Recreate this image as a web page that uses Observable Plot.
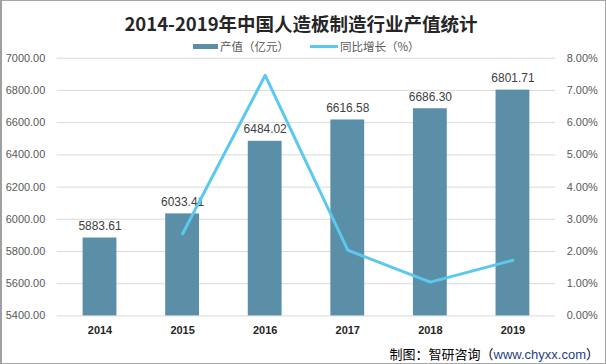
<!DOCTYPE html>
<html>
<head>
<meta charset="utf-8">
<script src="https://cdn.jsdelivr.net/npm/d3@7"></script>
<script src="https://cdn.jsdelivr.net/npm/@observablehq/plot@0.6"></script>
<style>
  body { margin: 0; background: #fff; }
  #wrap { position: relative; width: 606px; height: 364px; box-sizing: border-box; border: 1px solid #a6a6a6; border-left: 2px solid #a0a0a0; overflow: hidden; background: #fff; font-family: "Liberation Sans", "Noto Sans CJK SC", sans-serif; }
  #title { position: absolute; top: 9px; left: -3px; width: 604px; text-align: center; font-family: "Noto Sans CJK SC", sans-serif; font-weight: 700; font-size: 18.5px; color: #262626; }
  #legend { position: absolute; top: 37px; left: 191px; display: flex; font-family: "Noto Sans CJK SC", sans-serif; font-size: 11.5px; color: #595959; align-items: center; }
  .item { display: flex; align-items: center; }
  .sw { display: inline-block; margin-right: 2px; }
  #caption { position: absolute; right: 6px; top: 343px; font-family: "Noto Sans CJK SC", sans-serif; font-size: 13px; color: #000; }
  #caption span { color: #1f3f7f; font-family: "Liberation Sans", sans-serif; }
  .layer { position: absolute; left: -2px; top: -1px; }
</style>
</head>
<body>
<div id="wrap">
  <div id="title">2014-2019年中国人造板制造行业产值统计</div>
  <div id="legend"></div>
  <div id="caption">制图：智研咨询（<span>www.chyxx.com</span>）</div>
</div>
<script>
const years = ["2014", "2015", "2016", "2017", "2018", "2019"];
const output = [5883.61, 6033.41, 6484.02, 6616.58, 6686.30, 6801.71];
const growthYears = ["2015", "2016", "2017", "2018", "2019"];
const growth = [2.55, 7.47, 2.04, 1.05, 1.73];
const leftTicks = [5400, 5600, 5800, 6000, 6200, 6400, 6600, 6800, 7000];
const rightTicks = [0, 1, 2, 3, 4, 5, 6, 7, 8];
const seriesNames = ["产值（亿元）", "同比增长（%）"];

const barColor = "#5b8fa7";
const lineColor = "#5bc8f0";

const bars = years.map((y, i) => ({year: y, value: output[i]}));
const line = growthYears.map((y, i) => ({year: y, value: growth[i]}));

const W = 606, H = 364;
const margins = {marginTop: 58, marginBottom: 47, marginLeft: 57, marginRight: 48};
const font = "Liberation Sans, Noto Sans CJK SC, sans-serif";

const p1 = Plot.plot({
  width: W, height: H, ...margins,
  style: {fontFamily: font, fontSize: "11px", color: "#595959", background: "transparent", overflow: "visible"},
  x: {domain: years, paddingInner: 0.59, paddingOuter: 0.295, label: null},
  y: {domain: [5400, 7000], label: null},
  marks: [
    Plot.gridY(leftTicks, {stroke: "#d9d9d9", strokeOpacity: 1}),
    Plot.axisY(leftTicks, {tickSize: 0, tickPadding: 12, tickFormat: d => d.toFixed(2), fill: "#595959", fontSize: 11}),
    Plot.axisX({tickSize: 0, tickPadding: 10, fontWeight: "bold", fill: "#262626", fontSize: 11}),
    Plot.barY(bars, {x: "year", y1: 5400, y2: "value", fill: barColor}),
    Plot.text(bars, {x: "year", y: "value", text: d => d.value.toFixed(2), dy: -8, lineAnchor: "bottom", fill: "#404040", fontSize: 12})
  ]
});
p1.classList.add("layer");

const p2 = Plot.plot({
  width: W, height: H, ...margins,
  style: {fontFamily: font, fontSize: "11px", color: "#595959", background: "transparent", overflow: "visible"},
  x: {type: "point", domain: years, padding: 0.5, axis: null},
  y: {domain: [0, 8], label: null, axis: null},
  marks: [
    Plot.axisY(rightTicks, {anchor: "right", tickSize: 0, tickPadding: 11, tickFormat: d => d.toFixed(2) + "%", fill: "#595959", fontSize: 11}),
    Plot.line(line, {x: "year", y: "value", stroke: lineColor, strokeWidth: 3, strokeLinejoin: "round"})
  ]
});
p2.classList.add("layer");

const wrap = document.getElementById("wrap");
wrap.insertBefore(p2, wrap.firstChild);
wrap.insertBefore(p1, wrap.firstChild);

const legend = document.getElementById("legend");
legend.innerHTML = `
  <div class="item"><span class="sw" style="width:25px;height:5px;background:${barColor}"></span>${seriesNames[0]}</div>
  <div class="item" style="margin-left:21px"><span class="sw" style="width:28px;height:3px;background:${lineColor}"></span>${seriesNames[1]}</div>`;
</script>
</body>
</html>
